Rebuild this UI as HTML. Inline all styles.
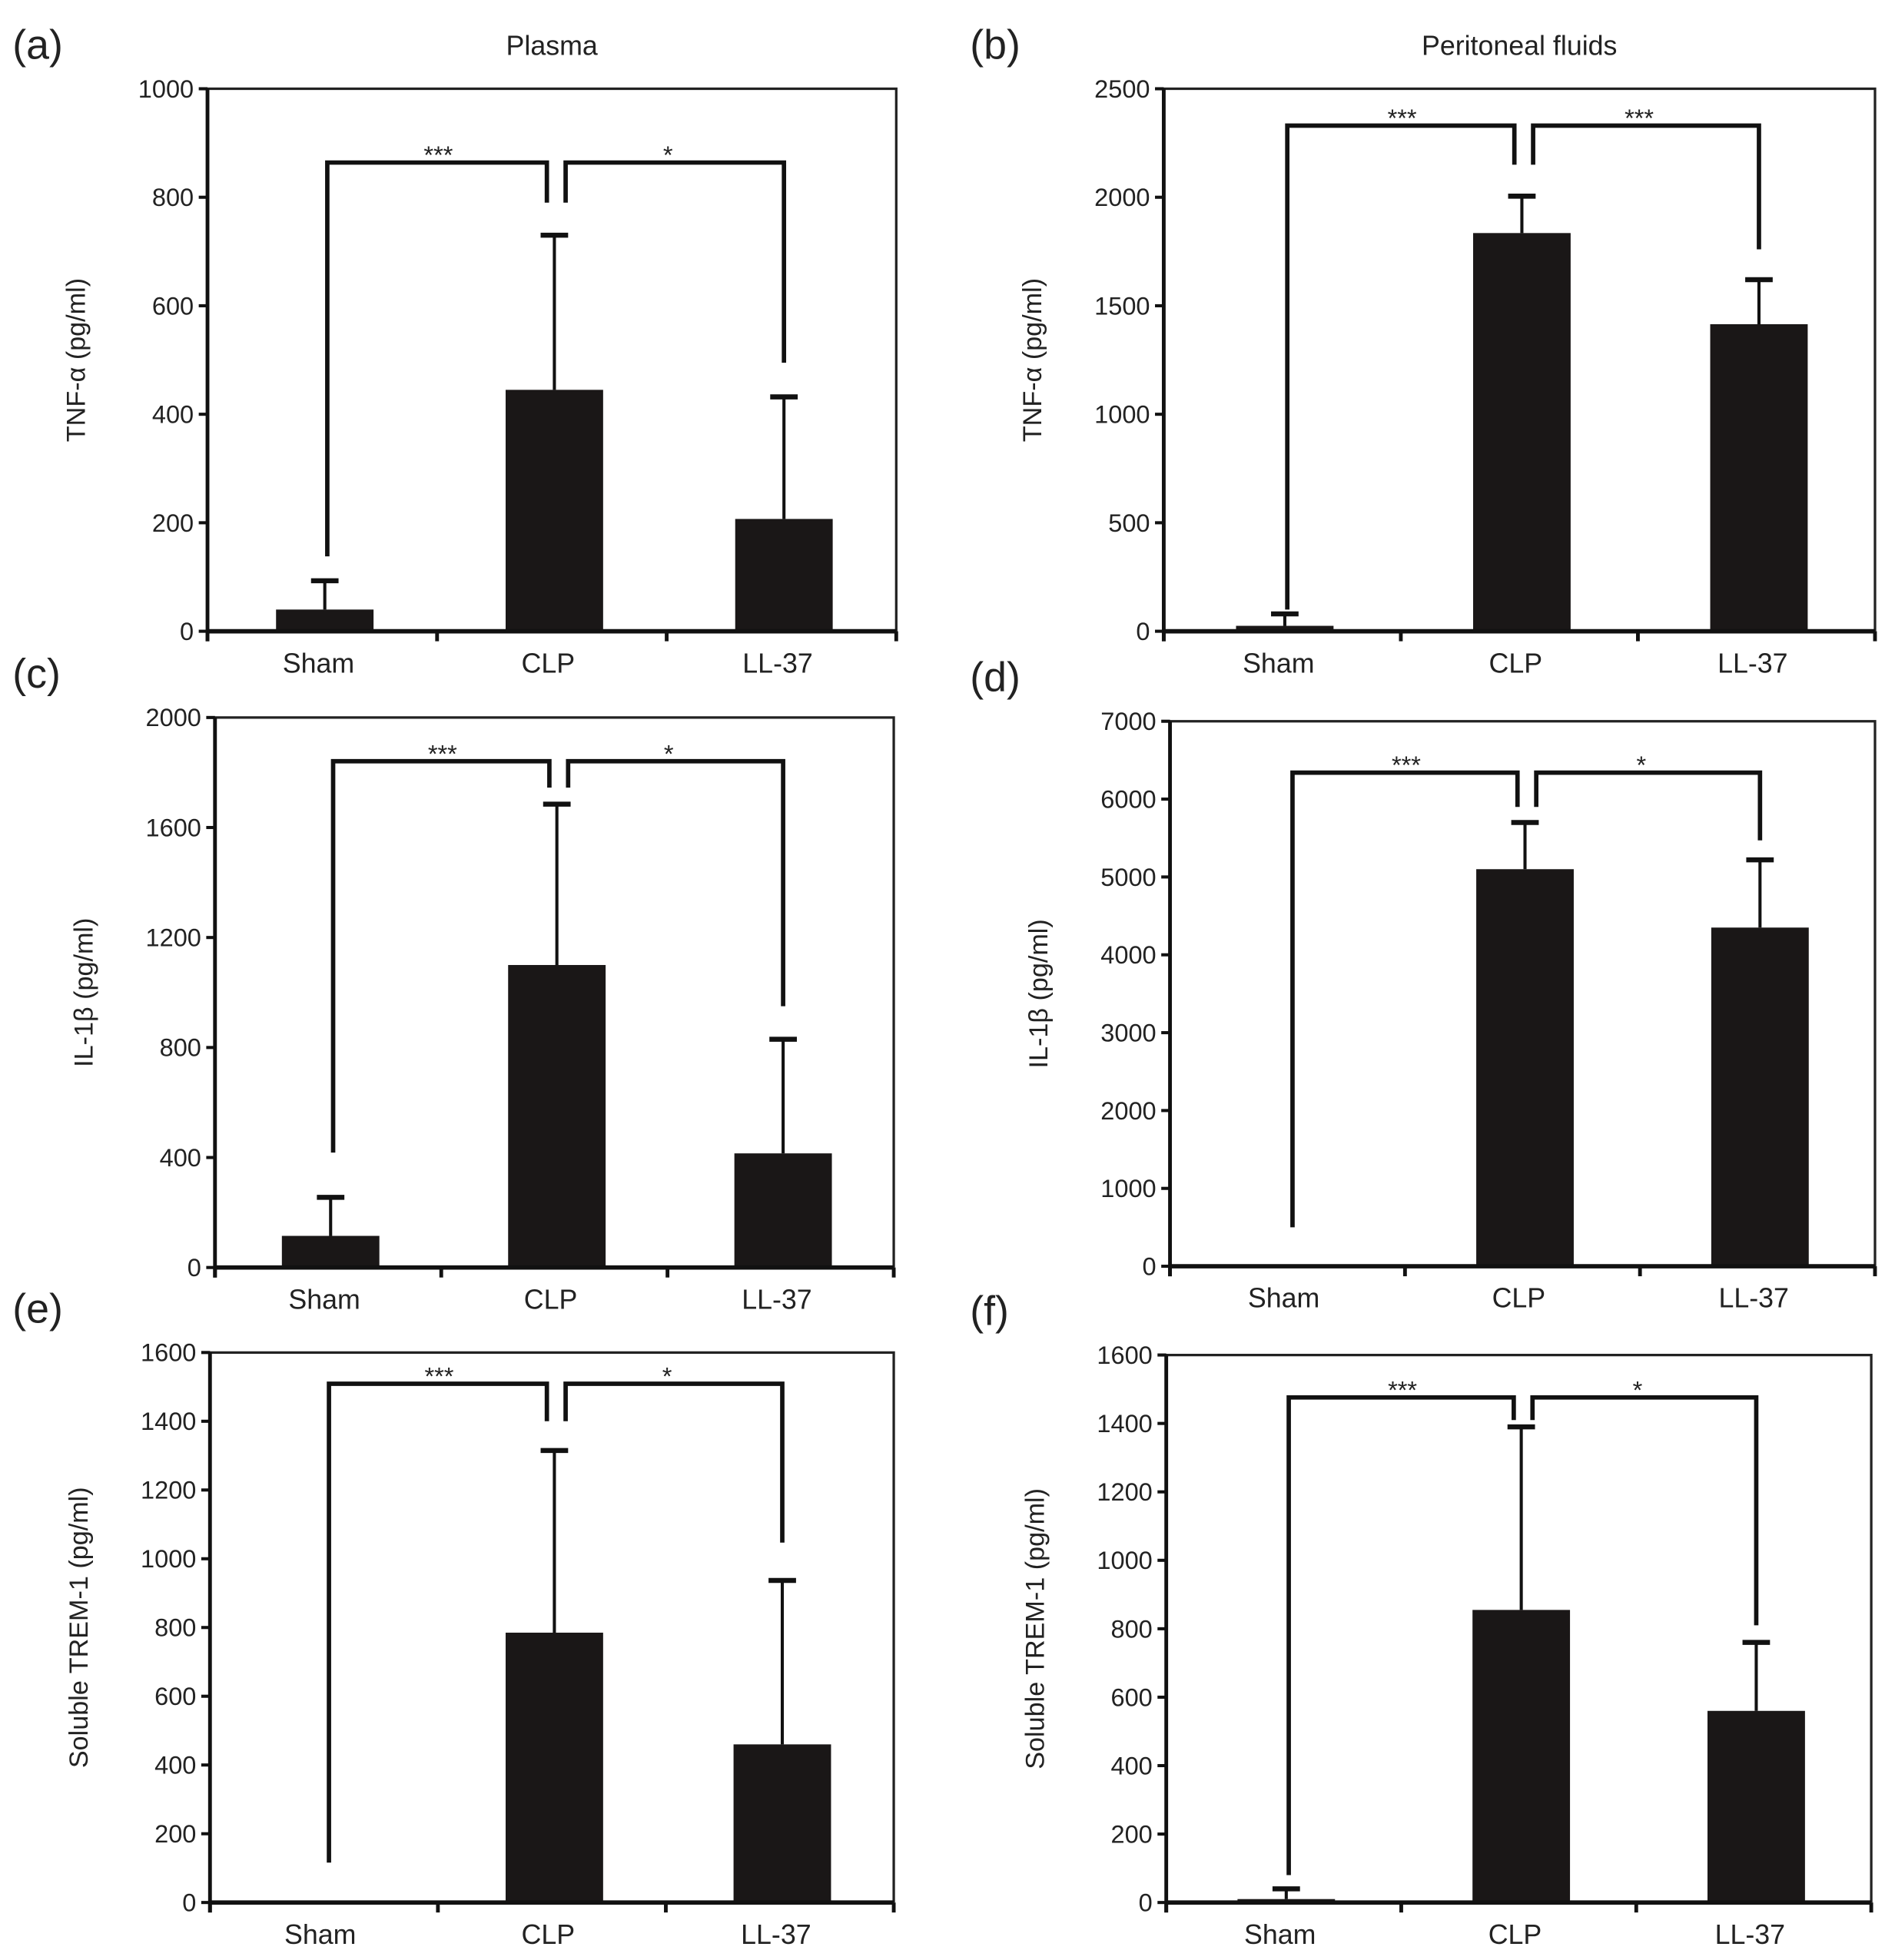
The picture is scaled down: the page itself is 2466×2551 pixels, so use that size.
<!DOCTYPE html>
<html><head><meta charset="utf-8"><style>
html,body{margin:0;padding:0;background:#fff}
svg{display:block}
text{font-family:"Liberation Sans",sans-serif;fill:#222}
</style></head><body>
<svg id="fig" width="2466" height="2551" viewBox="0 0 1516 1568" preserveAspectRatio="none" xmlns="http://www.w3.org/2000/svg"></svg>
<script>
const categories = ["Sham","CLP","LL-37"];
const panelLabels = ["(a)","(b)","(c)","(d)","(e)","(f)"];
const yTitles = ["TNF-\u03b1 (pg/ml)","TNF-\u03b1 (pg/ml)","IL-1\u03b2 (pg/ml)","IL-1\u03b2 (pg/ml)","Soluble TREM-1 (pg/ml)","Soluble TREM-1 (pg/ml)"];
const yMax = [1000,2500,2000,7000,1600,1600];
const yStep = [200,500,400,1000,200,200];
const meanA = [40,445,207], errA = [93,730,432];
const meanB = [25,1835,1415], errB = [80,2005,1620];
const meanC = [115,1100,415], errC = [255,1685,830];
const meanD = [20,5100,4350], errD = [null,5700,5220];
const meanE = [0,785,460], errE = [null,1315,937];
const meanF = [10,855,560], errF = [40,1390,760];
const means = [meanA,meanB,meanC,meanD,meanE,meanF];
const errs = [errA,errB,errC,errD,errE,errF];
// brackets: [bracketY, leftLegEnd, centerLegEnd, rightLegEnd]
const brackets = [[864,138,790,495],[2330,100,2150,1760],[1841,418,1745,950],[6340,500,5900,5470],[1509,116,1400,1047],[1476,80,1410,810]];
const stars = [["***","*"],["***","***"],["***","*"],["***","*"],["***","*"],["***","*"]];

const layout = [
 {l:166,r:717,t:71,b:505},{l:931,r:1500,t:71,b:505},
 {l:172,r:715,t:574,b:1014},{l:936,r:1500,t:577,b:1013},
 {l:168,r:715,t:1082,b:1522},{l:933,r:1497,t:1084,b:1522}];
const NS="http://www.w3.org/2000/svg";
const svg=document.getElementById('fig');
function mk(tag,attrs,parent){const e=document.createElementNS(NS,tag);for(const k in attrs)e.setAttribute(k,attrs[k]);(parent||svg).appendChild(e);return e;}

layout.forEach((L,p)=>{
  const g=mk('g',{});
  
  
  const y=v=>L.b-(v/yMax[p])*(L.b-L.t);
  const w=(L.r-L.l)/3;
  const x=i=>L.l+w*(i+0.5);
  const bw=78;
  const pl=mk('text',{x:(p%2==0)?10:776,y:L.t-24,'font-size':33},g);pl.textContent=panelLabels[p];
  
  
  if(p<2){const tt=mk('text',{x:(L.l+L.r)/2,y:44,'font-size':22,'text-anchor':'middle'},g);tt.textContent=p==0?"Plasma":"Peritoneal fluids";
    
    }
  means[p].forEach((m,i)=>{
    const e=errs[p][i];
    const cx=x(i)+2;
    if(e!=null){const el=mk('line',{x1:cx,x2:cx,y1:y(m),y2:y(e),stroke:'#111','stroke-width':2.5},g);
      
      
      mk('line',{x1:cx-11,x2:cx+11,y1:y(e),y2:y(e),stroke:'#111','stroke-width':4},g);}
    if(m>0){const r=mk('rect',{x:cx-bw/2,y:y(m),width:bw,height:L.b-y(m),fill:'#1a1717'},g);
      
      }
  });
  const fr=mk('path',{d:`M${L.l},${L.b}V${L.t}H${L.r}V${L.b}`,fill:'none',stroke:'#222','stroke-width':2},g);
  
  
  const xa=mk('line',{x1:L.l,x2:L.r,y1:L.b,y2:L.b,stroke:'#111','stroke-width':3.5},g);
  
  
  mk('line',{x1:L.l,x2:L.l,y1:L.t,y2:L.b+8,stroke:'#111','stroke-width':3},g);
  for(let k=0;k<=3;k++)mk('line',{x1:L.l+w*k,x2:L.l+w*k,y1:L.b,y2:L.b+8,stroke:'#111','stroke-width':3},g);
  for(let v=0;v<=yMax[p];v+=yStep[p]){
    mk('line',{x1:L.l-7,x2:L.l,y1:y(v),y2:y(v),stroke:'#111','stroke-width':2.5},g);
    const t=mk('text',{x:L.l-11,y:y(v)+7,'font-size':20,'text-anchor':'end'},g);t.textContent=v;
    
    
  }
  categories.forEach((c,i)=>{const t=mk('text',{x:x(i)-3,y:L.b+33,'font-size':22,'text-anchor':'middle'},g);t.textContent=c;
    
    });
  const yt=mk('text',{transform:`translate(${L.l-98},${(L.t+L.b)/2}) rotate(-90)`,'font-size':21,'text-anchor':'middle'},g);yt.textContent=yTitles[p];
  
  
  const B=brackets[p];const cx=x(1)+2;
  const br=mk('path',{d:`M${x(0)+4},${y(B[1])}V${y(B[0])}H${cx-6}V${y(B[2])}M${cx+9},${y(B[2])}V${y(B[0])}H${x(2)+2}V${y(B[3])}`,fill:'none',stroke:'#111','stroke-width':3.5},g);
  
  
  const s1=mk('text',{x:(x(0)+cx)/2,y:y(B[0])+1,'font-size':20,'text-anchor':'middle'},g);s1.textContent=stars[p][0];
  
  
  const s2=mk('text',{x:(cx+x(2))/2,y:y(B[0])+1,'font-size':20,'text-anchor':'middle'},g);s2.textContent=stars[p][1];
  
  
});
</script>
</body></html>
